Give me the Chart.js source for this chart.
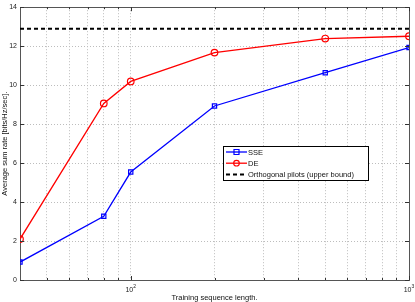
<!DOCTYPE html>
<html>
<head>
<meta charset="utf-8">
<script src="https://cdn.jsdelivr.net/npm/chart.js@4.4.0/dist/chart.umd.min.js"></script>
<style>
  html, body { margin: 0; padding: 0; background: #fff; }
  #wrap { width: 415px; height: 302px; }
</style>
</head>
<body>
<div id="wrap"><canvas id="rate-chart"></canvas></div>
<script>
// values
var trainingLength = [40, 80, 100, 200, 500, 1000];
var sseRate = [0.92, 3.27, 5.54, 8.93, 10.64, 11.93];
var deRate = [2.1, 9.06, 10.19, 11.67, 12.39, 12.51];
var orthoBound = 12.9;
var xRange = [40, 1000];
var xGrid = [50, 60, 70, 80, 90, 100, 200, 300, 400, 500, 600, 700, 800, 900, 1000];
var xMajor = [100, 1000];
var yTicks = [0, 2, 4, 6, 8, 10, 12, 14];

var FONT = 'Liberation Sans, Arial, sans-serif';

function pts(xs, ys) {
    return xs.map(function (x, i) { return { x: x, y: ys[i] }; });
}

var data = {
    datasets: [{
        label: 'SSE',
        data: pts(trainingLength, sseRate),
        borderColor: '#0000ff',
        backgroundColor: 'rgba(0,0,0,0)',
        borderWidth: 1.3,
        pointStyle: 'rect',
        pointRadius: 3,
        pointBorderWidth: 1.2,
        pointBorderColor: '#0000ff',
        pointBackgroundColor: 'rgba(0,0,0,0)',
    }, {
        label: 'DE',
        data: pts(trainingLength, deRate),
        borderColor: '#ff0000',
        backgroundColor: 'rgba(0,0,0,0)',
        borderWidth: 1.3,
        pointStyle: 'circle',
        pointRadius: 3.3,
        pointBorderWidth: 1.2,
        pointBorderColor: '#ff0000',
        pointBackgroundColor: 'rgba(0,0,0,0)',
    }, {
        label: 'Orthogonal pilots (upper bound)',
        data: pts(xRange, [orthoBound, orthoBound]),
        borderColor: '#000000',
        borderWidth: 2,
        borderDash: [4, 3],
        pointRadius: 0,
    }]
};

// inward tick marks, 10^n labels and boxed legend
var decorations = {
    id: 'decorations',
    afterDraw: function (chart) {
        var ctx = chart.ctx;
        var a = chart.chartArea;
        var xs = chart.scales.x, ys = chart.scales.y;
        ctx.save();
        ctx.strokeStyle = '#333';
        ctx.lineWidth = 1;
        ctx.beginPath();
        yTicks.forEach(function (v) {
            var y = Math.round(ys.getPixelForValue(v)) + 0.5;
            ctx.moveTo(a.left, y); ctx.lineTo(a.left + 4, y);
            ctx.moveTo(a.right, y); ctx.lineTo(a.right - 4, y);
        });
        xGrid.forEach(function (v) {
            var x = Math.round(xs.getPixelForValue(v)) + 0.5;
            var len = xMajor.indexOf(v) >= 0 ? 4 : 2;
            ctx.moveTo(x, a.bottom); ctx.lineTo(x, a.bottom - len);
            ctx.moveTo(x, a.top); ctx.lineTo(x, a.top + len);
        });
        ctx.stroke();

        // x tick labels as 10 with superscript
        ctx.fillStyle = '#222';
        ctx.textBaseline = 'alphabetic';
        xMajor.forEach(function (v) {
            var x = xs.getPixelForValue(v);
            var exp = String(Math.round(Math.log10(v)));
            ctx.font = '7px ' + FONT;
            var w = ctx.measureText('10').width;
            ctx.font = '5px ' + FONT;
            var we = ctx.measureText(exp).width;
            var x0 = x - (w + we) / 2;
            ctx.font = '7px ' + FONT;
            ctx.textAlign = 'left';
            ctx.fillText('10', x0, a.bottom + 12);
            ctx.font = '5px ' + FONT;
            ctx.fillText(exp, x0 + w, a.bottom + 8);
        });

        // legend
        var lx = 223, ly = 146, lw = 145, lh = 34;
        ctx.fillStyle = '#fff';
        ctx.fillRect(lx, ly, lw, lh);
        ctx.strokeStyle = '#000';
        ctx.lineWidth = 1;
        ctx.setLineDash([]);
        ctx.strokeRect(lx + 0.5, ly + 0.5, lw, lh);
        chart.data.datasets.forEach(function (ds, i) {
            var yy = ly + 6 + i * 11.2;
            ctx.save();
            ctx.strokeStyle = ds.borderColor;
            ctx.lineWidth = ds.borderWidth;
            if (ds.borderDash) ctx.setLineDash(ds.borderDash);
            ctx.beginPath();
            ctx.moveTo(lx + 3, yy); ctx.lineTo(lx + 24, yy);
            ctx.stroke();
            ctx.setLineDash([]);
            if (ds.pointRadius > 0) {
                ctx.lineWidth = 1.2;
                ctx.strokeStyle = ds.pointBorderColor;
                ctx.beginPath();
                if (ds.pointStyle === 'rect') {
                    ctx.rect(lx + 13.5 - 2.5, yy - 2.5, 5, 5);
                } else {
                    ctx.arc(lx + 13.5, yy, 2.8, 0, Math.PI * 2);
                }
                ctx.stroke();
            }
            ctx.restore();
            ctx.fillStyle = '#111';
            ctx.font = '7.5px ' + FONT;
            ctx.textAlign = 'left';
            ctx.textBaseline = 'middle';
            ctx.fillText(ds.label, lx + 25, yy + 0.5);
        });
        ctx.restore();
    }
};

var layout = {
    type: 'line',
    data: data,
    options: {
        responsive: true,
        maintainAspectRatio: false,
        animation: false,
        layout: {
            padding: { left: 0, right: 6, top: 3, bottom: 0 }
        },
        plugins: {
            legend: { display: false },
            tooltip: { enabled: false },
        },
        scales: {
            x: {
                type: 'logarithmic',
                min: xRange[0],
                max: xRange[1],
                afterBuildTicks: function (scale) {
                    scale.ticks = xGrid.map(function (v) { return { value: v }; });
                },
                afterFit: function (scale) { scale.height = 22; },
                grid: {
                    color: '#bdbdbd',
                    lineWidth: 1,
                    drawTicks: false,
                },
                border: { display: true, color: '#555', width: 1, dash: [1, 2] },
                ticks: {
                    display: true,
                    autoSkip: false,
                    maxRotation: 0,
                    color: 'rgba(0,0,0,0)',
                    font: { size: 7, family: FONT },
                    callback: function () { return ''; }
                },
                title: {
                    display: true,
                    text: 'Training sequence length.',
                    color: '#111',
                    font: { size: 7.5, family: FONT },
                    padding: { top: 10, bottom: 0 }
                }
            },
            y: {
                min: 0,
                max: 14,
                afterBuildTicks: function (scale) {
                    scale.ticks = yTicks.map(function (v) { return { value: v }; });
                },
                afterFit: function (scale) { scale.width = 20; },
                grid: {
                    color: '#bdbdbd',
                    lineWidth: 1,
                    drawTicks: false,
                },
                border: { display: true, color: '#555', width: 1, dash: [1, 2] },
                ticks: {
                    color: '#222',
                    padding: 3,
                    font: { size: 7, family: FONT },
                },
                title: {
                    display: true,
                    text: 'Average sum rate [bits/Hz/sec].',
                    color: '#111',
                    font: { size: 7.5, family: FONT },
                    padding: { top: 0, bottom: 0 }
                }
            },
            y2: {
                position: 'right',
                min: 0,
                max: 14,
                afterFit: function (scale) { scale.width = 0; },
                grid: { display: false, drawTicks: false },
                border: { display: true, color: '#555', width: 1 },
                ticks: { display: false }
            },
            x2: {
                type: 'logarithmic',
                position: 'top',
                min: xRange[0],
                max: xRange[1],
                afterFit: function (scale) { scale.height = 0; },
                grid: { display: false, drawTicks: false },
                border: { display: true, color: '#555', width: 1 },
                ticks: { display: false }
            }
        },
        elements: { line: { tension: 0 } }
    },
    plugins: [decorations]
};

var rateChart = document.getElementById('rate-chart');
new Chart(rateChart, layout);
</script>
</body>
</html>
